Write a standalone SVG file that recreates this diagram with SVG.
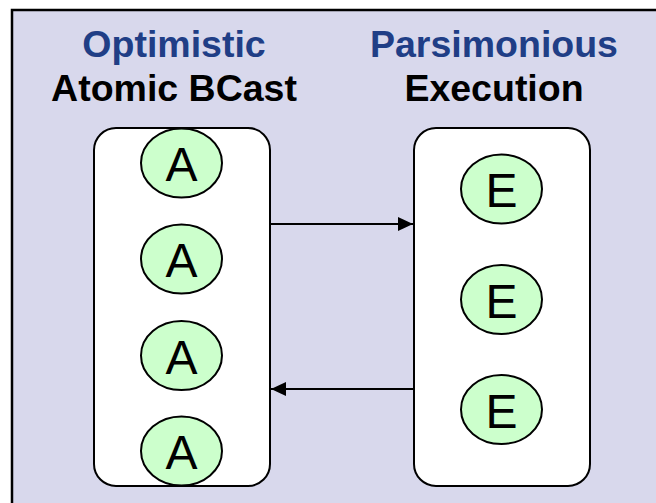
<svg xmlns="http://www.w3.org/2000/svg" width="656" height="503" viewBox="0 0 656 503">
<defs>
<style>
.title{font-family:"Liberation Sans",Arial,sans-serif;font-weight:bold;font-size:37.5px;text-anchor:middle}
.blue{fill:#203e86}
.blk{fill:#000}
.box{fill:#fff;stroke:#000;stroke-width:2}
.node ellipse{fill:#ccffcc;stroke:#000;stroke-width:2}
.node text{font-family:"Liberation Sans",Arial,sans-serif;font-size:48px;text-anchor:middle;fill:#000}
.conn{stroke:#000;stroke-width:2;fill:none}
</style>
<marker id="arr" viewBox="0 0 15 14" refX="15" refY="7" markerWidth="15" markerHeight="14" markerUnits="userSpaceOnUse" orient="auto">
<path d="M0,0 L15,7 L0,14 Z" fill="#000"/>
</marker>
</defs>
<rect x="12" y="10" width="660" height="510" fill="#d8d8ec" stroke="#000" stroke-width="2.5"/>
<text class="title blue" x="174" y="57">Optimistic</text>
<text class="title blk" x="174" y="101">Atomic BCast</text>
<text class="title blue" x="494" y="57">Parsimonious</text>
<text class="title blk" x="494" y="101">Execution</text>
<g id="abcast">
<rect class="box" x="94" y="128" width="176" height="358" rx="22" ry="22"/>
</g>
<g id="exec">
<rect class="box" x="414" y="128" width="176" height="358" rx="22" ry="22"/>
</g>
<g id="connectors">
<line class="conn" x1="270" y1="224" x2="413" y2="224" marker-end="url(#arr)"/>
<line class="conn" x1="413" y1="389" x2="271" y2="389" marker-end="url(#arr)"/>
</g>
<g id="a1" class="node"><ellipse cx="181.5" cy="163" rx="40.5" ry="34.5"/><text x="181.5" y="181">A</text></g>
<g id="a2" class="node"><ellipse cx="181.5" cy="259" rx="40.5" ry="34.5"/><text x="181.5" y="277">A</text></g>
<g id="a3" class="node"><ellipse cx="181.5" cy="355.5" rx="40.5" ry="34.5"/><text x="181.5" y="373.5">A</text></g>
<g id="a4" class="node"><ellipse cx="181.5" cy="451" rx="40.5" ry="34.5"/><text x="181.5" y="469">A</text></g>
<g id="e1" class="node"><ellipse cx="501.5" cy="189" rx="40.5" ry="34.5"/><text x="501.5" y="207">E</text></g>
<g id="e2" class="node"><ellipse cx="501.5" cy="299.5" rx="40.5" ry="34.5"/><text x="501.5" y="317.5">E</text></g>
<g id="e3" class="node"><ellipse cx="501.5" cy="409.5" rx="40.5" ry="34.5"/><text x="501.5" y="427.5">E</text></g>
</svg>
